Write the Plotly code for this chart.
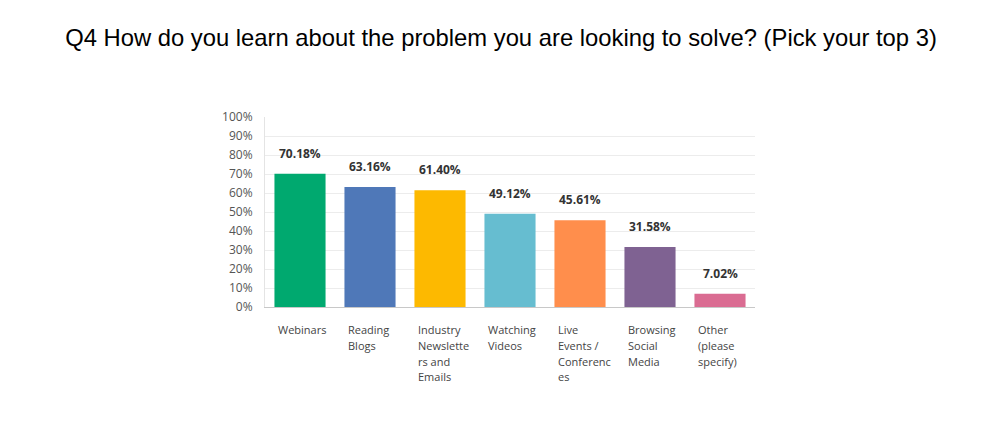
import plotly.graph_objects as go

# Survey data
categories = ["Webinars", "Reading Blogs", "Industry Newsletters and Emails", "Watching Videos",
              "Live Events / Conferences", "Browsing Social Media", "Other (please specify)"]
wrapped_labels = ["Webinars", "Reading<br>Blogs", "Industry<br>Newslette<br>rs and<br>Emails",
                  "Watching<br>Videos", "Live<br>Events /<br>Conferenc<br>es",
                  "Browsing<br>Social<br>Media", "Other<br>(please<br>specify)"]
percentages = [70.18, 63.16, 61.40, 49.12, 45.61, 31.58, 7.02]
bar_colors = ["#00A96F", "#4F78B8", "#FDB900", "#66BDD0", "#FF8E4C", "#7F6292", "#DA6C92"]

label_font = "Open Sans, DejaVu Sans, sans-serif"

fig = go.Figure(go.Bar(
    x=categories,
    y=percentages,
    marker=dict(color=bar_colors, line=dict(width=0)),
    hoverinfo="skip",
))

annotations = []
# Value labels above bars
for cat, val in zip(categories, percentages):
    annotations.append(dict(
        x=cat, y=val, xref="x", yref="y",
        text=f"{val:.2f}%", showarrow=False,
        yanchor="bottom", yshift=10,
        font=dict(family=label_font, size=12, color="#333333", weight="bold"),
    ))

# Category labels, left aligned under each bar, one annotation per line
for cat, lab in zip(categories, wrapped_labels):
    for i, line in enumerate(lab.split("<br>")):
        annotations.append(dict(
            x=cat, y=0, xref="x", yref="paper",
            text=line, showarrow=False, align="left",
            xanchor="left", yanchor="top", xshift=-24, yshift=-13 - 15.8 * i,
            font=dict(family=label_font, size=11, color="#444444"),
        ))

# the page body adds an 8px offset, so margins are trimmed accordingly
fig.update_layout(
    width=1000,
    height=422,
    paper_bgcolor="white",
    plot_bgcolor="white",
    margin=dict(l=257, r=253, t=109, b=123),
    bargap=0.27,
    showlegend=False,
    title=dict(
        text="Q4 How do you learn about the problem you are looking to solve? (Pick your top 3)",
        x=0.493, xanchor="center", y=1 - 30 / 422, yanchor="middle", yref="container",
        font=dict(family="Liberation Sans, Arial, sans-serif", size=23.8, color="#000000"),
    ),
    xaxis=dict(
        showticklabels=False,
        showline=True, linecolor="#C8C8C8", linewidth=1,
        showgrid=False, ticks="",
    ),
    yaxis=dict(
        range=[0, 100],
        dtick=10,
        ticksuffix="%",
        showgrid=True, gridcolor="#ECECEC", gridwidth=1,
        showline=True, linecolor="#E4E4E4", linewidth=1,
        zeroline=False,
        ticks="", ticklabelstandoff=9,
        tickfont=dict(family=label_font, size=12, color="#555555"),
    ),
    annotations=annotations,
)

fig.write_html("out.html")
